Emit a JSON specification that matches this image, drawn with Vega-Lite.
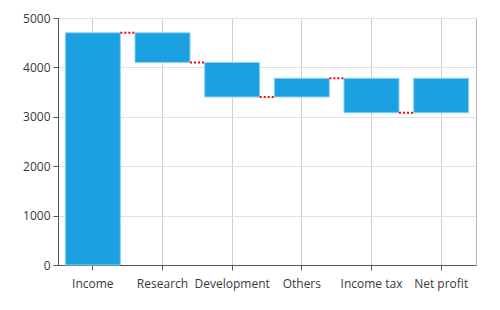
{
  "$schema": "https://vega.github.io/schema/vega-lite/v6.json",
  "width": 418,
  "height": 247,
  "autosize": {"type": "none"},
  "padding": {"left": 58, "top": 18, "right": 24, "bottom": 45},
  "background": "white",
  "config": {
    "view": {"stroke": "#b5b5b5", "strokeWidth": 1},
    "axis": {
      "labelFont": "Segoe UI, Open Sans, sans-serif",
      "labelFontSize": 12,
      "labelColor": "#3a3a3a",
      "domainColor": "#555555",
      "tickColor": "#555555",
      "tickSize": 5,
      "title": null
    }
  },
  "data": {
    "values": [
      {"cat": "Income", "low": 0, "high": 4700, "end": 4700, "next": "Research"},
      {"cat": "Research", "low": 4100, "high": 4700, "end": 4100, "next": "Development"},
      {"cat": "Development", "low": 3400, "high": 4100, "end": 3400, "next": "Others"},
      {"cat": "Others", "low": 3400, "high": 3780, "end": 3780, "next": "Income tax"},
      {"cat": "Income tax", "low": 3080, "high": 3780, "end": 3080, "next": "Net profit"},
      {"cat": "Net profit", "low": 3080, "high": 3780, "end": null, "next": null}
    ]
  },
  "encoding": {
    "x": {
      "field": "cat",
      "type": "nominal",
      "sort": null,
      "scale": {"paddingInner": 0.21, "paddingOuter": 0.105},
      "axis": {"labelAngle": 0, "grid": true, "gridColor": "#cfcfcf", "labelPadding": 8, "bandPosition": 0.5}
    }
  },
  "layer": [
    {
      "mark": {"type": "bar", "color": "#1ba1e2", "stroke": "#8fd3f3", "strokeWidth": 1},
      "encoding": {
        "y": {
          "field": "low",
          "type": "quantitative",
          "scale": {"domain": [0, 5000], "nice": false},
          "axis": {"values": [0, 1000, 2000, 3000, 4000, 5000], "format": "d", "grid": true, "gridColor": "#e0e0e0", "labelPadding": 3}
        },
        "y2": {"field": "high"}
      }
    },
    {
      "transform": [{"filter": "datum.next != null"}],
      "mark": {"type": "rule", "color": "#ff0000", "strokeWidth": 2, "strokeDash": [2, 2]},
      "encoding": {
        "x": {"field": "cat", "type": "nominal", "sort": null, "bandPosition": 1},
        "x2": {"field": "next", "bandPosition": 0},
        "y": {"field": "end", "type": "quantitative"}
      }
    }
  ]
}
